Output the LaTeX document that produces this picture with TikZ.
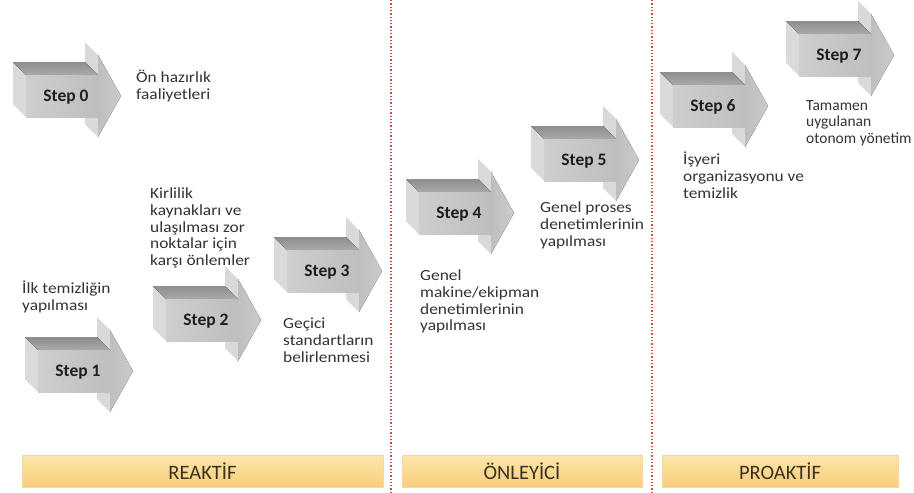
\documentclass[tikz,border=0pt]{standalone}
\usepackage{fontspec}
\setmainfont{Carlito}
\newfontfamily\descfont[FakeStretch=1.12]{Carlito}
\definecolor{textgray}{HTML}{333333}
\definecolor{labelgray}{HTML}{1E1E1E}
\definecolor{bandtop}{HTML}{FDE7AA}
\definecolor{bandbot}{HTML}{F8CD7A}
\definecolor{bandedge}{HTML}{F3D9A0}
\definecolor{bandtextcol}{HTML}{3A3020}
\definecolor{divred}{HTML}{D9453F}
\definecolor{faceleft}{HTML}{DADADA}
\definecolor{headback}{HTML}{D9D9D9}
\definecolor{topdark}{HTML}{8E8E8E}
\definecolor{toplight}{HTML}{A9A9A9}
\definecolor{frontlight}{HTML}{CECECE}
\definecolor{frontdark}{HTML}{BEBEBE}
\definecolor{headfront}{HTML}{CBCBCB}
\tikzset{
  pics/stepshape/.style={code={
    % side faces of the arrow head, above and below the shaft
    \fill[headback] (23,-54) -- (36,-41) -- (36,-21) -- (23,-34) -- cycle;
    \fill[headback] (23,8) -- (36,21) -- (36,41) -- (23,28) -- cycle;
    % front of the arrow head
    \fill[left color=frontdark, right color=headfront] (36,-41) -- (59,0) -- (36,41) -- cycle;
    % shaft: left side, top and front
    \fill[faceleft] (-49,-34) -- (-36,-21) -- (-36,21) -- (-49,8) -- cycle;
    \fill[top color=topdark, bottom color=toplight] (-49,-34) -- (23,-34) -- (36,-21) -- (-36,-21) -- cycle;
    \fill[left color=frontlight, right color=frontdark] (-36,-21) rectangle (36,21);
    \node[steplabel] (-label) at (4,1) {#1};
  }},
  steplabel/.style={font=\fontsize{17.5}{20}\selectfont\bfseries, text=labelgray, inner sep=0pt},
  desc/.style={anchor=north west, inner sep=0pt, align=left,
    font=\descfont\fontsize{15.5}{16.6}\selectfont, text=textgray},
  descnarrow/.style={desc, font=\fontsize{15.5}{16.6}\selectfont},
  band/.style={top color=bandtop, bottom color=bandbot, draw=bandedge, line width=0.5pt},
  bandlabel/.style={font=\fontsize{20.5}{24}\selectfont, text=bandtextcol},
  divider/.style={draw=divred, dotted, line width=1.3pt}
}
\begin{document}
\begin{tikzpicture}[x=1pt, y=-1pt]
\useasboundingbox (0,0) rectangle (914,493);

% phase dividers
\coordinate (d1top) at (391,0);
\coordinate (d1bot) at (391,493);
\coordinate (d2top) at (652,0);
\coordinate (d2bot) at (652,493);
\draw[divider] (d1top) -- (d1bot);
\draw[divider] (d2top) -- (d2bot);

% step arrows
\pic (s0) at (62,96)  {stepshape=Step 0};
\pic (s1) at (74,371) {stepshape=Step 1};
\pic (s2) at (202,320) {stepshape=Step 2};
\pic (s3) at (323,271) {stepshape=Step 3};
\pic (s4) at (455,213) {stepshape=Step 4};
\pic (s5) at (580,160) {stepshape=Step 5};
\pic (s6) at (709,106) {stepshape=Step 6};
\pic (s7) at (835,55)  {stepshape=Step 7};

% step descriptions
\node[desc] (t0) at (136,70)  {Ön hazırlık\\faaliyetleri};
\node[desc] (t1) at (22,281)  {İlk temizliğin\\yapılması};
\node[desc] (t2) at (150,188) {Kirlilik\\kaynakları ve\\ulaşılması zor\\noktalar için\\karşı önlemler};
\node[desc] (t3) at (283,318) {Geçici\\standartların\\belirlenmesi};
\node[desc] (t4) at (420,270) {Genel\\makine/ekipman\\denetimlerinin\\yapılması};
\node[desc] (t5) at (540,202) {Genel proses\\denetimlerinin\\yapılması};
\node[desc] (t6) at (683,152) {İşyeri\\organizasyonu ve\\temizlik};
\node[descnarrow] (t7) at (806,100) {Tamamen\\uygulanan\\otonom yönetim};

% phase bands
\path[band] (22,455) rectangle (383,487);
\path[band] (402,455) rectangle (642,487);
\path[band] (662,455) rectangle (898,487);
\node[bandlabel] (p1) at (202.5,471) {REAKTİF};
\node[bandlabel] (p2) at (522,471) {ÖNLEYİCİ};
\node[bandlabel] (p3) at (780,471) {PROAKTİF};
\end{tikzpicture}
\end{document}
